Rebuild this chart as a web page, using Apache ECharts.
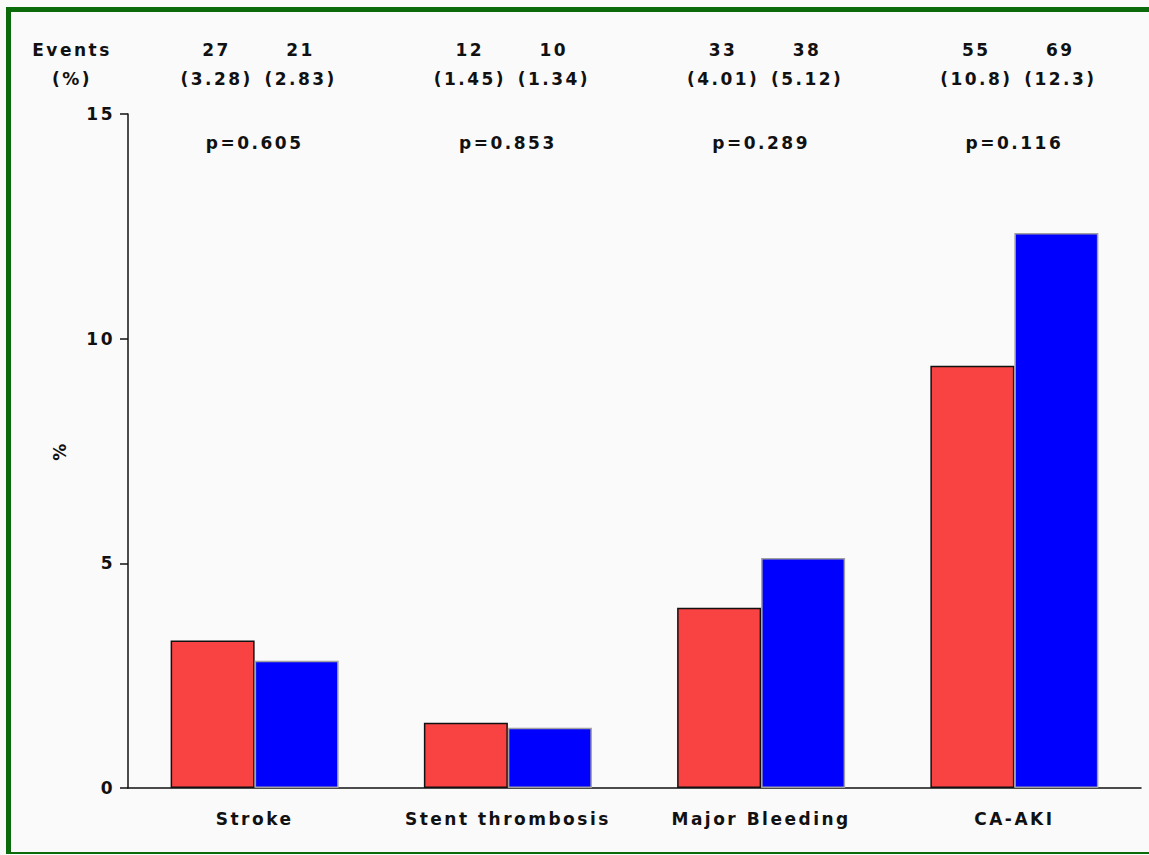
<!DOCTYPE html>
<html>
<head>
<meta charset="utf-8">
<script src="https://cdn.jsdelivr.net/npm/echarts@6/dist/echarts.min.js"></script>
<style>
  html, body { margin: 0; padding: 0; background: #fafafa; }
  #frame {
    position: absolute; left: 6px; top: 7px; width: 1143px; height: 847px;
    box-sizing: border-box;
    border-top: 5px solid #0b6b0b; border-left: 5px solid #0b6b0b; border-bottom: 2px solid #0b6b0b;
  }
  #chart { position: absolute; left: 0; top: 0; width: 1149px; height: 855px; }
  #chart text { letter-spacing: 2.5px; }
</style>
</head>
<body>
<div id="frame"></div>
<div id="chart"></div>
<script>
// categories and values
const categories = ['Stroke', 'Stent thrombosis', 'Major Bleeding', 'CA-AKI'];
const redValues  = [3.28, 1.45, 4.01, 9.4];
const blueValues = [2.83, 1.34, 5.12, 12.35];
const redEvents  = ['27', '12', '33', '55'];
const blueEvents = ['21', '10', '38', '69'];
const redPct     = ['(3.28)', '(1.45)', '(4.01)', '(10.8)'];
const bluePct    = ['(2.83)', '(1.34)', '(5.12)', '(12.3)'];
const pValues    = ['p=0.605', 'p=0.853', 'p=0.289', 'p=0.116'];
const yTicks     = [0, 5, 10, 15];

const FONT = '"DejaVu Sans", Verdana, sans-serif';
const BAR_W = 84;

var chart = echarts.init(document.getElementById('chart'), null, { renderer: 'svg' });

chart.setOption({
  backgroundColor: 'transparent',
  animation: false,
  grid: { left: 128, right: 8, top: 114, bottom: 67, containLabel: false },
  xAxis: {
    type: 'category',
    data: categories,
    axisLine: { lineStyle: { color: '#111', width: 1.5 } },
    axisTick: { alignWithLabel: true, length: 9, lineStyle: { color: '#111', width: 1.5 } },
    axisLabel: { margin: 22, color: '#111', fontSize: 17, fontWeight: 'bold', fontFamily: FONT }
  },
  yAxis: {
    type: 'value',
    min: yTicks[0],
    max: yTicks[yTicks.length - 1],
    interval: 5,
    name: '%',
    nameLocation: 'middle',
    nameGap: 60,
    nameTextStyle: { color: '#111', fontSize: 17, fontWeight: 'bold', fontFamily: FONT },
    splitLine: { show: false },
    axisLine: { show: true, lineStyle: { color: '#111', width: 1.5 } },
    axisTick: { show: true, length: 8, lineStyle: { color: '#111', width: 1.5 } },
    axisLabel: { margin: 13, color: '#111', fontSize: 17, fontWeight: 'bold', fontFamily: FONT }
  },
  series: [
    {
      type: 'bar',
      data: redValues,
      barWidth: BAR_W,
      barGap: '0%',
      itemStyle: { color: '#f94343', borderColor: '#111', borderWidth: 1.5 }
    },
    {
      type: 'bar',
      data: blueValues,
      barWidth: BAR_W,
      barGap: '0%',
      itemStyle: { color: '#0000ff', borderColor: '#a0a0a0', borderWidth: 1.5 }
    }
  ]
});

// header texts placed over the category positions of the axis
const txt = (text, x, y) => ({
  type: 'text',
  silent: true,
  style: {
    text: text, x: x, y: y,
    fill: '#111',
    font: 'bold 17px ' + FONT,
    textAlign: 'center',
    textVerticalAlign: 'middle'
  }
});

let graphics = [txt('Events', 72, 50), txt('(%)', 72, 79)];
categories.forEach((c, i) => {
  const cx = chart.convertToPixel({ xAxisIndex: 0 }, i);
  const rx = cx - BAR_W / 2 + 4;
  const bx = cx + BAR_W / 2 + 4;
  graphics.push(txt(redEvents[i], rx, 50));
  graphics.push(txt(blueEvents[i], bx, 50));
  graphics.push(txt(redPct[i], rx, 79));
  graphics.push(txt(bluePct[i], bx, 79));
  graphics.push(txt(pValues[i], cx, 143));
});
chart.setOption({ graphic: graphics });
</script>
</body>
</html>
